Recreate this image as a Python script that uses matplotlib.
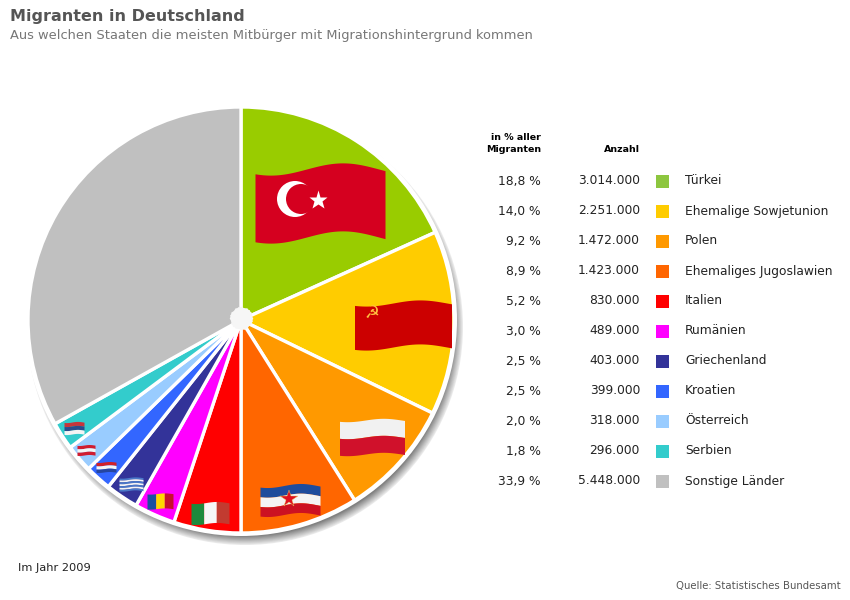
import numpy as np
import matplotlib
matplotlib.use("Agg")
import matplotlib.pyplot as plt
from matplotlib.patches import Circle, Rectangle

title = "Migranten in Deutschland"
subtitle = "Aus welchen Staaten die meisten Mitbürger mit Migrationshintergrund kommen"
names = ["Türkei", "Ehemalige Sowjetunion", "Polen", "Ehemaliges Jugoslawien", "Italien",
         "Rumänien", "Griechenland", "Kroatien", "Österreich", "Serbien", "Sonstige Länder"]
pct_labels = ["18,8 %", "14,0 %", "9,2 %", "8,9 %", "5,2 %", "3,0 %", "2,5 %", "2,5 %", "2,0 %", "1,8 %", "33,9 %"]
count_labels = ["3.014.000", "2.251.000", "1.472.000", "1.423.000", "830.000", "489.000",
                "403.000", "399.000", "318.000", "296.000", "5.448.000"]
# slice sizes as they are drawn in the picture
slice_shares = [18.25, 13.95, 8.85, 8.95, 5.1, 3.1, 2.5, 2.0, 2.1, 2.1, 33.1]
pie_colors = ["#99CC00", "#FFCC00", "#FF9900", "#FF6600", "#FF0000", "#FF00FF",
              "#333399", "#3366FF", "#99CCFF", "#33CCCC", "#C0C0C0"]
swatch_colors = ["#8DC63F"] + pie_colors[1:]

W, H = 850, 600
fig = plt.figure(figsize=(W / 100, H / 100), dpi=100)
ax = fig.add_axes([0, 0, 1, 1])
Y = lambda p: H - p
CX, CY, R = 241, Y(320), 213

# shadow + white rim
for i, g in enumerate(np.linspace(0.92, 0.5, 12)):
    ax.add_patch(Circle((CX + 4, CY - 7), R + 5 - i * 0.8, fc=str(g), ec="none", zorder=0.2))
ax.add_patch(Circle((CX, CY), R + 3, fc="white", ec="none", zorder=0.5))

ax.pie(slice_shares, colors=pie_colors, startangle=90, counterclock=False, center=(CX, CY), radius=R,
       wedgeprops=dict(edgecolor="white", linewidth=2.4, zorder=1))

# jagged white hub
for rot in (0, 15, 30):
    ax.plot([CX], [Y(318)], marker=(6, 0, rot), ms=17, color="#F6F6F6", mec="none", zorder=2)


def flag(cx, cy, w, h, bands, vertical=False, amp=0.03, cycles=0.9, phase=0.9):
    """Waving flag built from stripes; cx, cy in image pixels."""
    u = np.linspace(0, 1, 50)
    wave = lambda t: amp * h * np.sin(2 * np.pi * cycles * t + phase)
    n = len(bands)
    for i, c in enumerate(bands):
        if vertical:
            uu = np.linspace(i / n, (i + 1) / n, 12)
            xs = cx - w / 2 + uu * w
            top = Y(cy - h / 2 + wave(uu))
            bot = Y(cy + h / 2 + wave(uu))
            ax.fill_between(xs, bot, top, color=c, lw=0, zorder=3)
        else:
            xs = cx - w / 2 + u * w
            top = Y(cy - h / 2 + i / n * h + wave(u))
            bot = Y(cy - h / 2 + (i + 1) / n * h + wave(u))
            ax.fill_between(xs, bot, top, color=c, lw=0, zorder=3)


flag(320, 203, 130, 68, ["#D5001F"], amp=0.09)
ax.add_patch(Circle((295, Y(199)), 18, fc="white", ec="none", zorder=4))
ax.add_patch(Circle((301, Y(199)), 15, fc="#D5001F", ec="none", zorder=4))
ax.plot([318], [Y(200)], marker="*", ms=14, color="white", mec="none", zorder=4)

flag(403, 325, 97, 44, ["#CC0000"], amp=0.07)
ax.text(372, Y(313), "☭", color="#FFC040", fontsize=12, ha="center", va="center", zorder=4)

flag(372, 437, 65, 34, ["#F1F1F1", "#D0112B"], amp=0.05)
flag(290, 500, 60, 29, ["#1E4C9C", "#F4F4F4", "#CC1122"], amp=0.07)
ax.plot([289], [Y(499)], marker="*", ms=13, color="#E01020", mec="#E8D060", mew=0.3, zorder=4)
flag(210, 513, 38, 21, ["#1E8A3C", "#F6F6F6", "#C23B30"], vertical=True, amp=0.05)
flag(160, 501, 26, 15, ["#1A4FA0", "#FFD800", "#C8102E"], vertical=True, amp=0.04)
flag(131, 484, 24, 13, ["#4A78C8", "#F4F4F4", "#4A78C8", "#F4F4F4", "#4A78C8", "#F4F4F4", "#4A78C8"], amp=0.05)
flag(106, 467, 20, 10, ["#D0202A", "#F4F4F4", "#2545A0"], amp=0.05)
flag(86, 450, 18, 10, ["#D01C30", "#F4F4F4", "#D01C30"], amp=0.05)
flag(74, 428, 20, 12, ["#C6363C", "#2A4C8C", "#F4F4F4"], amp=0.05)

# texts
ink = "#222222"
ax.text(10, Y(16), title, fontsize=11.5, fontweight="bold", color="#555555", va="center", ha="left")
ax.text(10, Y(36), subtitle, fontsize=9.35, color="#777777", va="center", ha="left")
ax.text(541, Y(137), "in % aller", fontsize=6.8, fontweight="bold", color="black", ha="right", va="center")
ax.text(541, Y(150), "Migranten", fontsize=6.8, fontweight="bold", color="black", ha="right", va="center")
ax.text(640, Y(150), "Anzahl", fontsize=6.8, fontweight="bold", color="black", ha="right", va="center")

for i, (n, p, c, col) in enumerate(zip(names, pct_labels, count_labels, swatch_colors)):
    y = 181 + 30 * i
    ax.text(541, Y(y), p, fontsize=8.8, color=ink, ha="right", va="center")
    ax.text(640, Y(y), c, fontsize=8.8, color=ink, ha="right", va="center")
    ax.add_patch(Rectangle((656, Y(y + 6.5)), 13, 13, fc=col, ec="none"))
    ax.text(685, Y(y), n, fontsize=8.8, color=ink, ha="left", va="center")

ax.text(18, Y(568), "Im Jahr 2009", fontsize=8.2, color=ink, ha="left", va="center")
ax.text(841, Y(586), "Quelle: Statistisches Bundesamt", fontsize=7.3, color="#555555", ha="right", va="center")

ax.set_xlim(0, W)
ax.set_ylim(0, H)
ax.set_aspect("auto")
ax.axis("off")
fig.savefig("out.png", dpi=100)
